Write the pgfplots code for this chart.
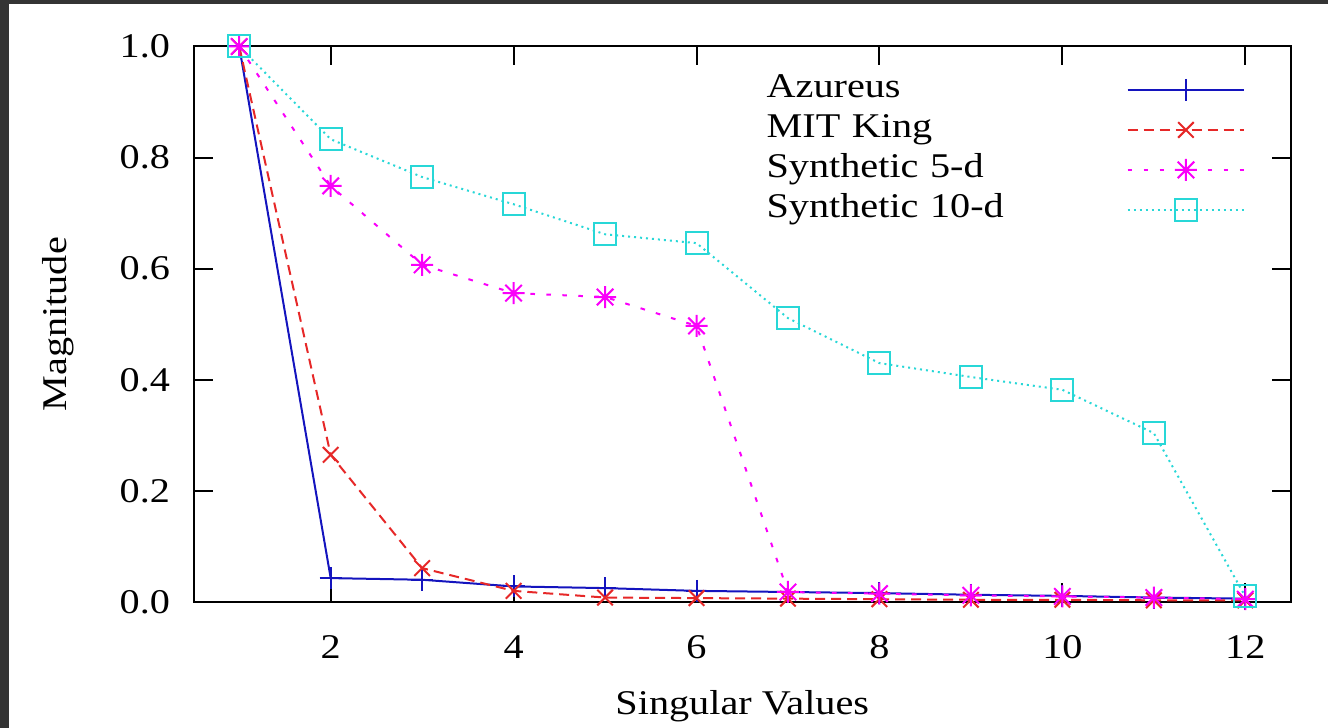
\documentclass[border=0pt]{standalone}
\usepackage{fontspec}
\setmainfont{Liberation Serif}[FakeStretch=1.16]
\usepackage{pgfplots}
\pgfplotsset{compat=1.18}

\definecolor{azblue}{RGB}{20,20,190}
\definecolor{mitred}{RGB}{230,40,40}
\definecolor{synmag}{RGB}{250,0,250}
\definecolor{syncyan}{RGB}{40,215,215}
\definecolor{frame}{RGB}{52,52,52}

% gnuplot style star: + and x on top of each other
\pgfdeclareplotmark{gpstar}{%
  \pgfpathmoveto{\pgfqpoint{-\pgfplotmarksize}{0pt}}%
  \pgfpathlineto{\pgfqpoint{\pgfplotmarksize}{0pt}}%
  \pgfpathmoveto{\pgfqpoint{0pt}{-\pgfplotmarksize}}%
  \pgfpathlineto{\pgfqpoint{0pt}{\pgfplotmarksize}}%
  \pgfpathmoveto{\pgfqpoint{-.75\pgfplotmarksize}{-.75\pgfplotmarksize}}%
  \pgfpathlineto{\pgfqpoint{.75\pgfplotmarksize}{.75\pgfplotmarksize}}%
  \pgfpathmoveto{\pgfqpoint{-.75\pgfplotmarksize}{.75\pgfplotmarksize}}%
  \pgfpathlineto{\pgfqpoint{.75\pgfplotmarksize}{-.75\pgfplotmarksize}}%
  \pgfusepathqstroke}

\begin{document}
\fontsize{10.4}{12}\selectfont
\begin{tikzpicture}
% page is 1328 x 728 px, 1px = 0.3pt
\path[use as bounding box] (0,0) rectangle (398.4pt,218.4pt);
\fill[frame] (0,0) rectangle (2.7pt,218.4pt);
\fill[frame] (0,217.2pt) rectangle (398.4pt,218.4pt);

\begin{axis}[
  at={(58.05pt,37.8pt)}, anchor=south west,
  scale only axis,
  width=329.25pt, height=166.65pt,
  xmin=0.5, xmax=12.5, ymin=0, ymax=1,
  xtick={2,4,6,8,10,12},
  ytick={0,0.2,0.4,0.6,0.8,1.0},
  /pgf/number format/assume math mode=true,
  yticklabel style={/pgf/number format/fixed, /pgf/number format/fixed zerofill, /pgf/number format/precision=1, xshift=-3.4pt},
  tick align=inside,
  major tick length=5.7pt,
  tick style={black, line width=0.6pt},
  axis line style={line width=0.6pt},
  xticklabel style={yshift=-6.5pt},
  xlabel={Singular Values},
  ylabel={Magnitude},
  xlabel style={at={(axis description cs:0.5,-0.188)}, anchor=center},
  ylabel style={at={(axis description cs:-0.1235,0.5)}, anchor=center},
  clip=false,
  legend cell align=left,
  legend plot pos=right,
  legend style={draw=none, fill=none,
    at={(axis description cs:0.5125,0.971)}, anchor=north west,
    row sep=0pt, column sep=0pt,
    nodes={inner sep=0pt, text height=8.4pt, text depth=3.6pt, text width=108pt, align=left}},
  legend image code/.code={%
    \draw[mark repeat=2,mark phase=2] plot coordinates {(0pt,0pt) (17.5pt,0pt) (35pt,0pt)};},
  every axis plot/.append style={line width=0.6pt, mark size=3.3pt, mark options={solid}},
]

\addplot[azblue, mark=+] coordinates {
  (1,1.000) (2,0.043) (3,0.040) (4,0.028) (5,0.025) (6,0.020)
  (7,0.018) (8,0.016) (9,0.013) (10,0.011) (11,0.008) (12,0.006)
};
\addlegendentry{Azureus}

\addplot[mitred, dash pattern=on 3pt off 1.8pt, mark=x] coordinates {
  (1,1.000) (2,0.265) (3,0.061) (4,0.020) (5,0.008) (6,0.007)
  (7,0.006) (8,0.005) (9,0.004) (10,0.004) (11,0.003) (12,0.003)
};
\addlegendentry{MIT King}

\addplot[synmag, dash pattern=on 1.4pt off 3.4pt, mark=gpstar] coordinates {
  (1,1.000) (2,0.749) (3,0.607) (4,0.556) (5,0.549) (6,0.497)
  (7,0.018) (8,0.015) (9,0.012) (10,0.010) (11,0.008) (12,0.005)
};
\addlegendentry{Synthetic 5-d}

\addplot[syncyan, dash pattern=on 0.6pt off 1.2pt, mark=square] coordinates {
  (1,1.000) (2,0.833) (3,0.765) (4,0.716) (5,0.662) (6,0.646)
  (7,0.511) (8,0.430) (9,0.405) (10,0.382) (11,0.304) (12,0.010)
};
\addlegendentry{Synthetic 10-d}

\end{axis}
\end{tikzpicture}
\end{document}
